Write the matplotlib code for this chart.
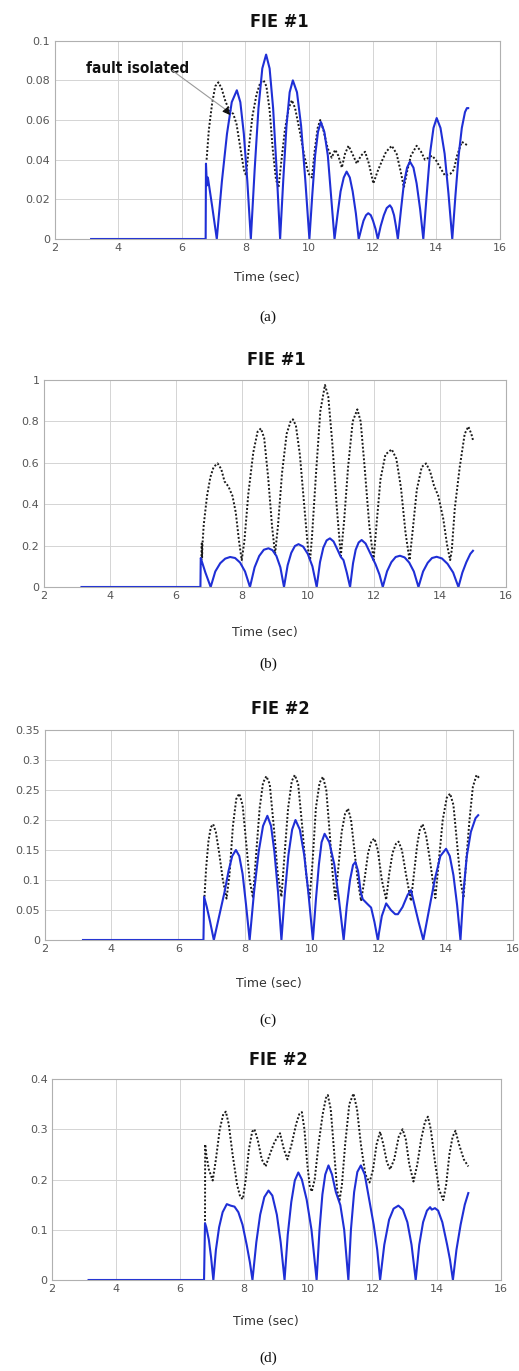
import matplotlib
matplotlib.use('Agg')
import matplotlib.pyplot as plt
from matplotlib import font_manager

# ---- panel (a): FIE #1, small scale ----
a_blue_t = [3.15, 6.75, 6.76, 6.79, 6.82, 6.95, 7.10,
            7.26, 7.42, 7.57, 7.73, 7.84, 7.95, 8.06, 8.17,
            8.29, 8.41, 8.53, 8.65, 8.76, 8.87, 8.98, 9.09,
            9.19, 9.29, 9.39, 9.49, 9.62, 9.75, 9.88, 10.01,
            10.10, 10.19, 10.28, 10.37, 10.48, 10.59, 10.69, 10.80,
            10.90, 10.99, 11.09, 11.18, 11.28, 11.37, 11.47, 11.56,
            11.64, 11.71, 11.79, 11.86, 11.94, 12.01, 12.09, 12.16,
            12.25, 12.35, 12.44, 12.54, 12.60, 12.67, 12.73, 12.79,
            12.89, 12.98, 13.08, 13.17, 13.28, 13.38, 13.49, 13.59,
            13.70, 13.80, 13.91, 14.01, 14.13, 14.26, 14.38, 14.50,
            14.60, 14.70, 14.80, 14.90, 14.96, 15.0]
a_blue_v = [0, 0, 0.038, 0.027, 0.031, 0.017, 0,
            0.029, 0.053, 0.069, 0.075, 0.069, 0.053, 0.029, 0,
            0.035, 0.066, 0.086, 0.093, 0.086, 0.066, 0.035, 0,
            0.030, 0.057, 0.074, 0.080, 0.074, 0.057, 0.030, 0,
            0.022, 0.042, 0.054, 0.059, 0.054, 0.042, 0.022, 0,
            0.013, 0.024, 0.031, 0.034, 0.031, 0.024, 0.013, 0,
            0.005, 0.0092, 0.012, 0.013, 0.012, 0.0092, 0.005, 0,
            0.0065, 0.012, 0.0156, 0.017, 0.0156, 0.012, 0.0065, 0,
            0.015, 0.028, 0.036, 0.039, 0.036, 0.028, 0.015, 0,
            0.023, 0.043, 0.056, 0.061, 0.056, 0.043, 0.023, 0,
            0.022, 0.042, 0.056, 0.064, 0.066, 0.066]
a_dot_t = [6.78, 6.85, 6.95, 7.05, 7.15, 7.25, 7.38, 7.50, 7.62, 7.72, 7.85, 7.95,
           8.02, 8.10, 8.22, 8.35, 8.47, 8.57, 8.66, 8.76, 8.86, 8.96, 9.04, 9.12,
           9.24, 9.36, 9.46, 9.56, 9.70, 9.85, 9.98, 10.09, 10.18, 10.27, 10.35,
           10.45, 10.58, 10.71, 10.82, 10.92, 11.03, 11.13, 11.24, 11.36, 11.50,
           11.63, 11.76, 11.88, 12.02, 12.15, 12.28, 12.42, 12.60, 12.75, 12.88,
           12.98, 13.08, 13.20, 13.38, 13.52, 13.64, 13.76, 13.86, 13.98, 14.12,
           14.27, 14.45, 14.55, 14.65, 14.80, 14.90, 15.0]
a_dot_v = [0.040, 0.055, 0.068, 0.077, 0.079, 0.076, 0.069, 0.065, 0.063, 0.058, 0.045, 0.035,
           0.032, 0.045, 0.062, 0.073, 0.079, 0.080, 0.077, 0.065, 0.045, 0.030, 0.026, 0.038,
           0.055, 0.066, 0.070, 0.066, 0.055, 0.042, 0.033, 0.031, 0.045, 0.056, 0.060,
           0.055, 0.046, 0.041, 0.045, 0.042, 0.036, 0.043, 0.047, 0.043, 0.038,
           0.042, 0.044, 0.038, 0.028, 0.034, 0.039, 0.044, 0.047, 0.043, 0.034,
           0.026, 0.034, 0.042, 0.047, 0.044, 0.040, 0.041, 0.042, 0.040, 0.036,
           0.032, 0.033, 0.035, 0.042, 0.049, 0.048, 0.047]

# ---- panel (b): FIE #1, large scale ----
b_blue_t = [3.15, 6.75, 6.76, 6.80, 6.90, 7.06,
            7.20, 7.35, 7.50, 7.65, 7.80, 7.95, 8.10, 8.25,
            8.39, 8.53, 8.67, 8.81, 8.93, 9.05, 9.17, 9.28,
            9.39, 9.50, 9.61, 9.72, 9.86, 10.00, 10.14, 10.27,
            10.37, 10.47, 10.57, 10.67, 10.78, 10.90, 11.00, 11.08, 11.18, 11.28,
            11.37, 11.45, 11.54, 11.63, 11.75, 11.90, 12.05, 12.17, 12.27,
            12.40, 12.53, 12.66, 12.79, 12.93, 13.07, 13.21, 13.35,
            13.49, 13.63, 13.76, 13.90, 14.06, 14.23, 14.40, 14.56,
            14.68, 14.80, 14.92, 15.0]
b_blue_v = [0, 0, 0.14, 0.12, 0.07, 0,
            0.075, 0.115, 0.137, 0.145, 0.140, 0.118, 0.075, 0,
            0.095, 0.150, 0.180, 0.187, 0.178, 0.150, 0.095, 0,
            0.105, 0.165, 0.198, 0.207, 0.195, 0.160, 0.100, 0,
            0.120, 0.190, 0.225, 0.235, 0.220, 0.180, 0.145, 0.130, 0.070, 0,
            0.115, 0.180, 0.215, 0.227, 0.210, 0.160, 0.110, 0.060, 0,
            0.076, 0.120, 0.145, 0.151, 0.143, 0.118, 0.075, 0,
            0.075, 0.117, 0.140, 0.146, 0.138, 0.112, 0.070, 0,
            0.070, 0.120, 0.160, 0.175]
b_dot_t = [6.78, 6.79, 6.80, 6.81, 6.85, 6.95, 7.05, 7.15, 7.27, 7.38, 7.48, 7.60,
           7.72, 7.82, 7.92, 8.00, 8.08, 8.20, 8.35, 8.48, 8.58, 8.68, 8.80, 8.92,
           9.01, 9.10, 9.22, 9.36, 9.48, 9.55, 9.64, 9.76, 9.90, 10.01, 10.07,
           10.13, 10.25, 10.38, 10.52, 10.62, 10.74, 10.88, 11.00, 11.10, 11.22,
           11.36, 11.50, 11.60, 11.72, 11.86, 11.99, 12.08, 12.20, 12.35, 12.54,
           12.68, 12.82, 12.96, 13.08, 13.18, 13.30, 13.45, 13.58, 13.70, 13.82,
           13.95, 14.10, 14.22, 14.31, 14.36, 14.45, 14.60, 14.75, 14.86, 14.95, 15.0]
b_dot_v = [0.13, 0.21, 0.14, 0.20, 0.30, 0.44, 0.53, 0.58, 0.597, 0.57, 0.51, 0.485,
           0.44, 0.36, 0.22, 0.13, 0.22, 0.45, 0.65, 0.75, 0.766, 0.72, 0.53, 0.29,
           0.16, 0.30, 0.55, 0.74, 0.80, 0.81, 0.78, 0.64, 0.38, 0.18, 0.13,
           0.25, 0.55, 0.85, 0.976, 0.92, 0.70, 0.38, 0.15, 0.32, 0.58,
           0.80, 0.858, 0.80, 0.58, 0.30, 0.13, 0.30, 0.52, 0.64, 0.665,
           0.62, 0.48, 0.26, 0.13, 0.28, 0.47, 0.58, 0.597, 0.56, 0.49,
           0.44, 0.33, 0.20, 0.13, 0.18, 0.38, 0.58, 0.74, 0.775, 0.74, 0.71]

# ---- panel (c): FIE #2 ----
c_blue_t = [3.15, 6.75, 6.77, 6.85, 6.95, 7.06,
            7.22, 7.38, 7.50, 7.61, 7.72, 7.82, 7.92, 8.02, 8.13,
            8.26, 8.40, 8.53, 8.66, 8.77, 8.87, 8.98, 9.08,
            9.18, 9.29, 9.40, 9.50, 9.63, 9.76, 9.89, 10.02,
            10.11, 10.20, 10.28, 10.37, 10.51, 10.66, 10.80, 10.94,
            11.03, 11.13, 11.22, 11.29, 11.37, 11.45, 11.51, 11.65, 11.76, 11.86, 11.96,
            12.08, 12.21, 12.35, 12.48, 12.56, 12.70, 12.85, 12.95, 13.05, 13.18, 13.32,
            13.49, 13.66, 13.83, 14.00, 14.11, 14.22, 14.33, 14.43,
            14.52, 14.62, 14.74, 14.88, 14.96]
c_blue_v = [0, 0, 0.072, 0.055, 0.030, 0,
            0.040, 0.080, 0.115, 0.140, 0.150, 0.140, 0.110, 0.060, 0,
            0.079, 0.147, 0.190, 0.207, 0.190, 0.147, 0.079, 0,
            0.076, 0.142, 0.184, 0.200, 0.184, 0.142, 0.076, 0,
            0.067, 0.126, 0.163, 0.177, 0.163, 0.126, 0.067, 0,
            0.055, 0.100, 0.125, 0.130, 0.115, 0.080, 0.068, 0.060, 0.054, 0.030, 0,
            0.040, 0.061, 0.050, 0.043, 0.043, 0.055, 0.075, 0.083, 0.060, 0.030, 0,
            0.050, 0.100, 0.140, 0.152, 0.140, 0.108, 0.058, 0,
            0.080, 0.140, 0.180, 0.203, 0.208]
c_dot_t = [6.78, 6.83, 6.90, 6.97, 7.04, 7.12, 7.22, 7.33, 7.44, 7.53, 7.63, 7.73,
           7.82, 7.92, 8.03, 8.13, 8.23, 8.32, 8.43, 8.53, 8.63, 8.73, 8.85, 8.97,
           9.08, 9.17, 9.28, 9.39, 9.48, 9.58, 9.70, 9.82, 9.92, 10.01, 10.11,
           10.22, 10.32, 10.42, 10.52, 10.61, 10.69, 10.78, 10.88, 10.98, 11.07,
           11.16, 11.26, 11.36, 11.46, 11.56, 11.67, 11.77, 11.86, 11.96, 12.08,
           12.21, 12.30, 12.40, 12.50, 12.58, 12.68, 12.80, 12.95, 13.04, 13.14,
           13.22, 13.30, 13.40, 13.50, 13.60, 13.68, 13.78, 13.90, 14.02, 14.12,
           14.22, 14.33, 14.43, 14.52, 14.60, 14.70, 14.80, 14.91, 14.99]
c_dot_v = [0.072, 0.120, 0.165, 0.188, 0.193, 0.180, 0.145, 0.100, 0.069, 0.110, 0.190, 0.235,
           0.244, 0.225, 0.160, 0.100, 0.070, 0.140, 0.220, 0.262, 0.273, 0.260, 0.190, 0.110,
           0.072, 0.140, 0.220, 0.265, 0.275, 0.260, 0.190, 0.110, 0.068, 0.130, 0.220,
           0.262, 0.272, 0.250, 0.180, 0.110, 0.068, 0.120, 0.180, 0.210, 0.219,
           0.200, 0.150, 0.100, 0.065, 0.100, 0.145, 0.165, 0.169, 0.150, 0.100,
           0.067, 0.110, 0.145, 0.160, 0.164, 0.150, 0.110, 0.065, 0.110, 0.160,
           0.185, 0.193, 0.175, 0.140, 0.100, 0.070, 0.130, 0.200, 0.237, 0.244,
           0.225, 0.160, 0.100, 0.070, 0.130, 0.200, 0.255, 0.275, 0.270]

# ---- panel (d): FIE #2 ----
d_blue_t = [3.15, 6.75, 6.78, 6.82, 6.90, 6.97, 7.04,
            7.12, 7.22, 7.33, 7.46, 7.58, 7.70, 7.82, 7.95, 8.08, 8.18, 8.26,
            8.38, 8.50, 8.63, 8.76, 8.88, 9.02, 9.14, 9.26,
            9.36, 9.47, 9.58, 9.69, 9.80, 9.95, 10.10, 10.26,
            10.35, 10.44, 10.53, 10.63, 10.74, 10.86, 11.00, 11.12, 11.25,
            11.33, 11.43, 11.53, 11.64, 11.76, 11.90, 12.04, 12.15, 12.24,
            12.37, 12.52, 12.66, 12.81, 12.95, 13.09, 13.22, 13.35,
            13.46, 13.58, 13.70, 13.80, 13.85, 13.95, 14.05, 14.18, 14.33, 14.42, 14.51,
            14.62, 14.75, 14.88, 14.99]
d_blue_v = [0, 0, 0.113, 0.105, 0.080, 0.045, 0,
            0.060, 0.105, 0.135, 0.151, 0.148, 0.146, 0.135, 0.110, 0.070, 0.035, 0,
            0.075, 0.130, 0.165, 0.178, 0.168, 0.130, 0.075, 0,
            0.090, 0.155, 0.198, 0.214, 0.200, 0.160, 0.100, 0,
            0.100, 0.170, 0.210, 0.228, 0.210, 0.175, 0.149, 0.100, 0,
            0.100, 0.175, 0.215, 0.228, 0.210, 0.160, 0.110, 0.060, 0,
            0.070, 0.120, 0.142, 0.148, 0.140, 0.115, 0.070, 0,
            0.070, 0.115, 0.138, 0.145, 0.140, 0.143, 0.138, 0.115, 0.070, 0.040, 0,
            0.060, 0.110, 0.150, 0.173]
d_dot_t = [6.78, 6.785, 6.82, 6.90, 7.02, 7.12, 7.24, 7.35, 7.43, 7.52, 7.64, 7.78,
           7.88, 7.96, 8.05, 8.15, 8.25, 8.32, 8.42, 8.55, 8.67, 8.80, 8.95, 9.12,
           9.24, 9.35, 9.48, 9.62, 9.72, 9.80, 9.88, 9.97, 10.05, 10.11, 10.20,
           10.32, 10.45, 10.55, 10.61, 10.70, 10.80, 10.90, 10.97, 11.05, 11.15,
           11.28, 11.41, 11.52, 11.64, 11.78, 11.91, 12.02, 12.13, 12.24, 12.34,
           12.45, 12.55, 12.68, 12.82, 12.94, 13.04, 13.15, 13.28, 13.40, 13.52,
           13.64, 13.73, 13.82, 13.94, 14.08, 14.21, 14.30, 14.40, 14.50, 14.59,
           14.70, 14.85, 14.99]
d_dot_v = [0.110, 0.270, 0.250, 0.220, 0.198, 0.240, 0.300, 0.330, 0.335, 0.310, 0.250, 0.190,
           0.165, 0.161, 0.200, 0.260, 0.295, 0.300, 0.280, 0.240, 0.226, 0.250, 0.275, 0.292,
           0.260, 0.240, 0.270, 0.310, 0.330, 0.334, 0.300, 0.230, 0.185, 0.176, 0.200,
           0.270, 0.330, 0.362, 0.368, 0.340, 0.260, 0.180, 0.156, 0.190, 0.270,
           0.350, 0.371, 0.340, 0.270, 0.210, 0.194, 0.220, 0.270, 0.295, 0.270,
           0.235, 0.220, 0.240, 0.285, 0.300, 0.280, 0.230, 0.196, 0.230, 0.280,
           0.315, 0.325, 0.300, 0.240, 0.180, 0.159, 0.190, 0.250, 0.285, 0.297,
           0.270, 0.240, 0.226]

x_ticks = [2, 4, 6, 8, 10, 12, 14, 16]
a_yticks = [0, 0.02, 0.04, 0.06, 0.08, 0.1]
a_ylabels = ['0', '0.02', '0.04', '0.06', '0.08', '0.1']
b_yticks = [0, 0.2, 0.4, 0.6, 0.8, 1.0]
b_ylabels = ['0', '0.2', '0.4', '0.6', '0.8', '1']
c_yticks = [0, 0.05, 0.1, 0.15, 0.2, 0.25, 0.3, 0.35]
c_ylabels = ['0', '0.05', '0.1', '0.15', '0.2', '0.25', '0.3', '0.35']
d_yticks = [0, 0.1, 0.2, 0.3, 0.4]
d_ylabels = ['0', '0.1', '0.2', '0.3', '0.4']

W, H = 519, 1371
fig = plt.figure(figsize=(W / 100, H / 100), dpi=100)

BLUE = '#1f2fd6'


def condensed_bold(size):
    # look for a narrow/condensed bold face among the installed fonts
    for f in font_manager.fontManager.ttflist:
        w = f.weight
        if isinstance(w, str):
            w = font_manager.weight_dict.get(w, 400)
        narrow = ('condensed' in str(f.stretch).lower() or 'narrow' in f.name.lower()
                  or 'condensed' in f.name.lower())
        if narrow and w >= 600:
            return font_manager.FontProperties(fname=f.fname, size=size)
    return font_manager.FontProperties(family='DejaVu Sans', weight='bold',
                                       stretch='condensed', size=size * 0.85)


def px_axes(left, right, top, bottom):
    return fig.add_axes([left / W, 1 - bottom / H, (right - left) / W, (bottom - top) / H])


def fig_text(x, y, s, **kw):
    fig.text(x / W, 1 - y / H, s, ha='center', va='center', **kw)


panels = [
    dict(box=(54.5, 500, 40.7, 239), title='FIE #1', ty=22, xly=277, tag='(a)', tagy=317,
         blue=(a_blue_t, a_blue_v), dot=(a_dot_t, a_dot_v),
         yt=a_yticks, yl=a_ylabels, ymax=0.1),
    dict(box=(43.5, 506, 380, 587), title='FIE #1', ty=360, xly=632, tag='(b)', tagy=664,
         blue=(b_blue_t, b_blue_v), dot=(b_dot_t, b_dot_v),
         yt=b_yticks, yl=b_ylabels, ymax=1.0),
    dict(box=(44.5, 513, 730, 940), title='FIE #2', ty=709, xly=983, tag='(c)', tagy=1020,
         blue=(c_blue_t, c_blue_v), dot=(c_dot_t, c_dot_v),
         yt=c_yticks, yl=c_ylabels, ymax=0.35),
    dict(box=(51.7, 500.7, 1079, 1280), title='FIE #2', ty=1060, xly=1322, tag='(d)', tagy=1358,
         blue=(d_blue_t, d_blue_v), dot=(d_dot_t, d_dot_v),
         yt=d_yticks, yl=d_ylabels, ymax=0.4),
]

axes = []
for p in panels:
    l, r, t, b = p['box']
    ax = px_axes(l, r, t, b)
    ax.plot(*p['dot'], linestyle=(0, (1, 1)), color='#1a1a1a', lw=1.4)
    ax.plot(*p['blue'], color=BLUE, lw=1.5)
    ax.set_xlim(2, 16)
    ax.set_ylim(0, p['ymax'])
    ax.set_xticks(x_ticks)
    ax.set_yticks(p['yt'])
    ax.set_yticklabels(p['yl'])
    ax.grid(True, color='#d4d4d4', lw=0.7)
    ax.set_axisbelow(True)
    ax.tick_params(length=0, labelsize=8, colors='#555555', pad=3)
    for s in ax.spines.values():
        s.set_color('#b0b0b0')
        s.set_linewidth(0.8)
    mid = (l + r) / 2 + 2
    fig_text(mid, p['ty'], p['title'], fontproperties=condensed_bold(13), color='#111111')
    fig_text(mid - 12, p['xly'], 'Time (sec)', fontsize=9, color='#333333')
    fig_text(268, p['tagy'], p['tag'], fontsize=11, family='Liberation Serif', color='#111111')
    axes.append(ax)

# fault-isolation note on the first panel: grey leader line, black head
ax = axes[0]
ax.text(3.0, 0.0862, 'fault isolated', fontproperties=condensed_bold(11),
        color='#111111', ha='left', va='center')
ax.annotate('', xy=(7.40, 0.0650), xytext=(5.70, 0.0850),
            arrowprops=dict(arrowstyle='-', color='#9a9a9a', lw=0.8,
                            shrinkA=0, shrinkB=0))
ax.annotate('', xy=(7.52, 0.0625), xytext=(7.38, 0.0652),
            arrowprops=dict(arrowstyle='-|>', color='#111111', lw=0.8,
                            mutation_scale=11, shrinkA=0, shrinkB=0))

fig.savefig('out.png', dpi=100)
